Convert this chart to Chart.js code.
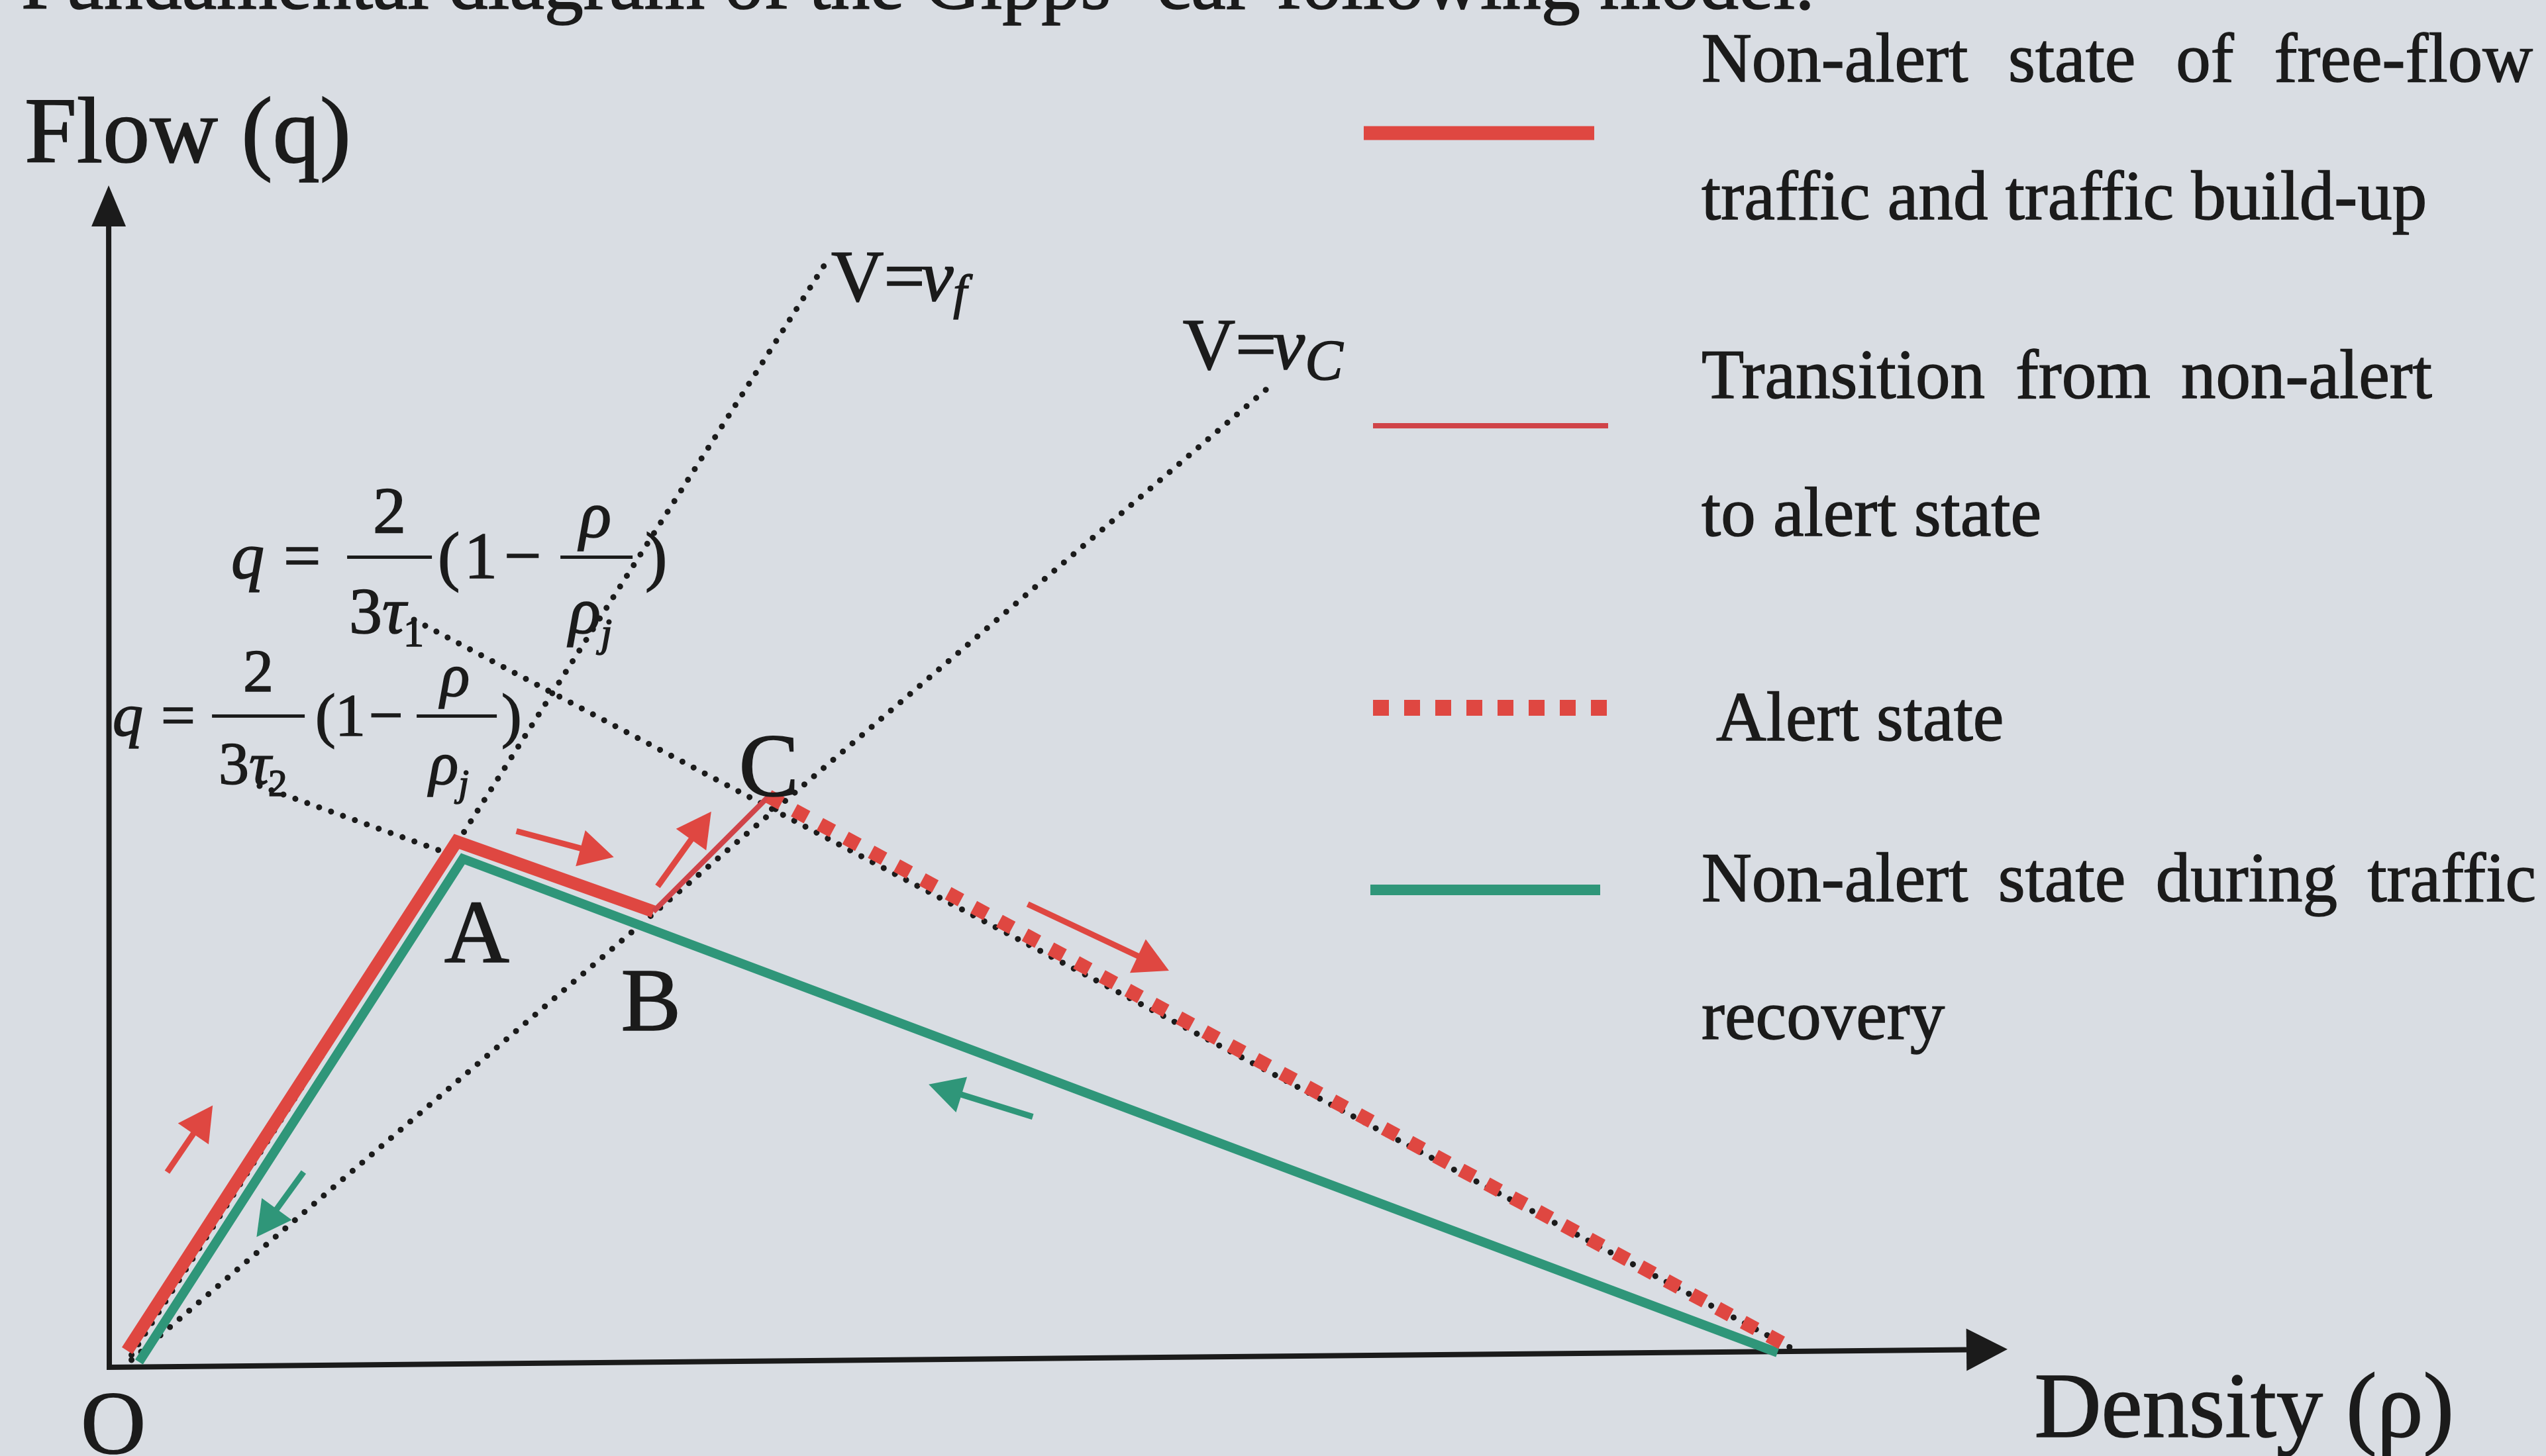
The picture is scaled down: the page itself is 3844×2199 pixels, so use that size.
<!DOCTYPE html>
<html lang="en">
<head>
<meta charset="utf-8">
<title>Fundamental diagram of the Gipps' car-following model</title>
<script src="https://cdn.jsdelivr.net/npm/chart.js@4.4.1/dist/chart.umd.min.js"></script>
<style>
  html, body { margin: 0; padding: 0; background: #d9dde3; overflow: hidden; }
  #box { width: 3844px; height: 2199px; }
</style>
</head>
<body>
<div id="box"><canvas id="fd"></canvas></div>
<script>
// Density (rho) / flow (q) points, jam density scaled to 100
const buildUpRho = [0.04, 19.8, 31.6];
const buildUpQ = [0.56, 31.1, 26.9];
const transitionRho = [31.6, 38.5];
const transitionQ = [26.9, 33.8];
const alertRho = [38.5, 99.9];
const alertQ = [33.8, 0.68];
const recoveryRho = [0.75, 20.17, 99.0];
const recoveryQ = [-0.12, 30.06, 0.44];

// dotted reference lines
const freeFlowRho = [0.3, 42.06];
const freeFlowQ = [0.3, 66.0];
const criticalRho = [0.3, 68.35];
const criticalQ = [0.0, 58.22];
const tau1Rho = [17.24, 99.9];
const tau1Q = [44.4, 0.68];
const tau2Rho = [7.98, 20.17];
const tau2Q = [34.43, 30.06];

// direction markers: [tailRho, tailQ, tipRho, tipQ]
const redArrows = [
  [2.44, 11.27, 5.17, 15.27],
  [23.38, 31.72, 29.22, 30.16],
  [31.85, 28.41, 35.06, 32.89],
  [54.04, 27.34, 62.51, 23.35]
];
const greenArrows = [
  [10.62, 11.27, 7.80, 7.38],
  [54.34, 14.59, 48.10, 16.53]
];

const legendLines = [
  ["Non-alert state of free-flow", "traffic and traffic build-up"],
  ["Transition from non-alert", "to alert state"],
  ["Alert state"],
  ["Non-alert state during traffic", "recovery"]
];

const RED = "#df4741";
const RED_THIN = "#d04449";
const GREEN = "#2f9679";
const INK = "#1b1b1b";
const BG = "#d9dde3";
const SERIF = '"Liberation Serif", "Times New Roman", serif';

function pts(rho, q) {
  return rho.map((r, i) => ({ x: r, y: q[i] }));
}

function line(rho, q, style) {
  return Object.assign({
    data: pts(rho, q),
    showLine: true,
    pointRadius: 0,
    pointHoverRadius: 0,
    tension: 0,
    fill: false,
    borderJoinStyle: "miter"
  }, style);
}

const dotted = {
  borderColor: INK,
  borderWidth: 9,
  borderDash: [0.1, 19],
  borderCapStyle: "round",
  order: 6
};

function font(size, italic) {
  return (italic ? "italic " : "") + size + "px " + SERIF;
}

// filled text with a thin outline so strokes read a bit heavier
function text(ctx, s, x, y, size, italic, align) {
  ctx.font = font(size, italic);
  ctx.textAlign = align || "left";
  ctx.fillText(s, x, y);
  ctx.strokeText(s, x, y);
  return ctx.measureText(s).width;
}

function plain(ctx, s, x, y) {
  ctx.fillText(s, x, y);
  ctx.strokeText(s, x, y);
}

// spread words so the line runs from left to right
function justify(ctx, s, left, right, y) {
  const words = s.split(" ");
  const widths = words.map((w) => ctx.measureText(w).width);
  const total = widths.reduce((a, b) => a + b, 0);
  const gap = (right - left - total) / (words.length - 1);
  let x = left;
  words.forEach((w, i) => {
    plain(ctx, w, x, y);
    x += widths[i] + gap;
  });
}

function arrowHead(ctx, x0, y0, x1, y1, len, half, color) {
  const d = Math.hypot(x1 - x0, y1 - y0);
  const ux = (x1 - x0) / d, uy = (y1 - y0) / d;
  const bx = x1 - ux * len, by = y1 - uy * len;
  ctx.fillStyle = color;
  ctx.beginPath();
  ctx.moveTo(x1, y1);
  ctx.lineTo(bx - uy * half, by + ux * half);
  ctx.lineTo(bx + uy * half, by - ux * half);
  ctx.closePath();
  ctx.fill();
  return [bx, by];
}

function arrow(ctx, x0, y0, x1, y1, color, width, len, half) {
  const d = Math.hypot(x1 - x0, y1 - y0);
  const ux = (x1 - x0) / d, uy = (y1 - y0) / d;
  ctx.strokeStyle = color;
  ctx.lineWidth = width;
  ctx.lineCap = "butt";
  ctx.beginPath();
  ctx.moveTo(x0, y0);
  ctx.lineTo(x1 - ux * len * 0.8, y1 - uy * len * 0.8);
  ctx.stroke();
  arrowHead(ctx, x0, y0, x1, y1, len, half, color);
}

// q = 2/(3 tau)(1 - rho/rho_j), laid out around the left baseline of "q"
function formula(ctx, ax, ay, s, g, sub) {
  ctx.fillStyle = INK;
  text(ctx, "q", ax, ay, s, true);
  text(ctx, "=", ax + g.eq, ay, s);
  ctx.fillRect(ax + g.bar[0], ay + g.barY, g.bar[1] - g.bar[0], 5);
  text(ctx, "2", ax + g.two, ay + g.top, s, false, "center");
  let w = text(ctx, "3", ax + g.den, ay + g.bot, s);
  w += text(ctx, "\u03c4", ax + g.den + w, ay + g.bot, s, true);
  text(ctx, sub, ax + g.den + w - 4, ay + g.bot + s * 0.2, s * 0.62);
  text(ctx, "(", ax + g.open, ay, s);
  text(ctx, "1", ax + g.one, ay, s);
  text(ctx, "\u2212", ax + g.minus, ay, s);
  ctx.fillRect(ax + g.bar2[0], ay + g.barY, g.bar2[1] - g.bar2[0], 5);
  text(ctx, "\u03c1", ax + g.rhoTop, ay + g.topRho, s, true, "center");
  const rw = text(ctx, "\u03c1", ax + g.rhoBot, ay + g.bot, s, true);
  text(ctx, "j", ax + g.rhoBot + rw, ay + g.bot + s * 0.2, s * 0.62, true);
  text(ctx, ")", ax + g.close, ay, s);
}

const overlay = {
  id: "overlay",
  beforeDraw(chart) {
    const ctx = chart.ctx;
    ctx.save();
    ctx.fillStyle = BG;
    ctx.fillRect(0, 0, chart.width, chart.height);
    ctx.restore();
  },
  beforeDatasetsDraw(chart) {
    const ctx = chart.ctx;
    const sx = chart.scales.x, sy = chart.scales.y;
    const P = (r, q) => [sx.getPixelForValue(r), sy.getPixelForValue(q)];
    const corner = P(-1.03, -0.44);
    const yTip = P(-1.07, 70.45);
    const xTip = P(112.79, 0.64);
    ctx.save();
    ctx.strokeStyle = INK;
    ctx.lineWidth = 8;
    const yBase = arrowHead(ctx, corner[0], corner[1], yTip[0], yTip[1], 62, 26, INK);
    const xBase = arrowHead(ctx, corner[0], corner[1], xTip[0], xTip[1], 62, 32, INK);
    ctx.beginPath();
    ctx.moveTo(yBase[0], yBase[1]);
    ctx.lineTo(corner[0], corner[1]);
    ctx.lineTo(xBase[0], xBase[1]);
    ctx.stroke();
    ctx.restore();
  },
  afterDatasetsDraw(chart) {
    const ctx = chart.ctx;
    const sx = chart.scales.x, sy = chart.scales.y;
    const P = (r, q) => [sx.getPixelForValue(r), sy.getPixelForValue(q)];
    ctx.save();
    ctx.textBaseline = "alphabetic";

    // direction markers along the branches
    redArrows.forEach((a) => {
      const t = P(a[0], a[1]), h = P(a[2], a[3]);
      arrow(ctx, t[0], t[1], h[0], h[1], RED, 9, 52, 28);
    });
    greenArrows.forEach((a) => {
      const t = P(a[0], a[1]), h = P(a[2], a[3]);
      arrow(ctx, t[0], t[1], h[0], h[1], GREEN, 9, 52, 28);
    });

    ctx.fillStyle = INK;
    ctx.strokeStyle = INK;
    ctx.lineWidth = 1.6;
    // title line, mostly above the top edge
    text(ctx, "Fundamental diagram of the Gipps\u2019 car-following model.", 32, 13, 118);

    // axis names and origin
    let p = P(-6.12, 71.84);
    text(ctx, "Flow (q)", p[0], p[1], 142);
    p = P(114.4, -4.61);
    text(ctx, "Density (\u03c1)", p[0], p[1], 140);
    p = P(-0.79, -5.6);
    text(ctx, "O", p[0], p[1], 136, false, "center");

    // state points
    p = P(21.0, 23.87);
    text(ctx, "A", p[0], p[1], 136, false, "center");
    p = P(31.45, 19.78);
    text(ctx, "B", p[0], p[1], 136, false, "center");
    p = P(38.52, 33.84);
    text(ctx, "C", p[0], p[1], 136, false, "center");

    // speed lines
    p = P(42.26, 63.54);
    let w = text(ctx, "V=", p[0], p[1], 110) - 6;
    w += text(ctx, "v", p[0] + w, p[1], 110, true);
    text(ctx, "f", p[0] + w, p[1] + 12, 74, true);
    p = P(63.34, 59.45);
    w = text(ctx, "V=", p[0], p[1], 110) - 6;
    w += text(ctx, "v", p[0] + w, p[1], 110, true);
    text(ctx, "C", p[0] + w, p[1] + 16, 86, true);

    // branch equations
    p = P(6.28, 46.9);
    formula(ctx, p[0], p[1], 100, {
      eq: 79, bar: [175, 303], barY: -34, two: 239, top: -69, den: 178, bot: 83,
      open: 312, one: 352, minus: 412, bar2: [497, 606], rhoTop: 550, topRho: -62,
      rhoBot: 510, close: 625
    }, "1");
    p = P(-0.83, 37.45);
    formula(ctx, p[0], p[1], 92, {
      eq: 73, bar: [150, 290], barY: -32, two: 220, top: -67, den: 160, bot: 73,
      open: 306, one: 336, minus: 387, bar2: [459, 580], rhoTop: 517, topRho: -60,
      rhoBot: 478, close: 587
    }, "2");

    // legend
    ctx.lineCap = "butt";
    ctx.strokeStyle = RED;
    ctx.lineWidth = 21;
    ctx.beginPath(); ctx.moveTo(2059, 201); ctx.lineTo(2407, 201); ctx.stroke();
    ctx.strokeStyle = RED_THIN;
    ctx.lineWidth = 8;
    ctx.beginPath(); ctx.moveTo(2073, 643); ctx.lineTo(2428, 643); ctx.stroke();
    ctx.strokeStyle = RED;
    ctx.lineWidth = 24;
    ctx.setLineDash([24, 23]);
    ctx.beginPath(); ctx.moveTo(2073, 1069); ctx.lineTo(2427, 1069); ctx.stroke();
    ctx.setLineDash([]);
    ctx.strokeStyle = GREEN;
    ctx.lineWidth = 16;
    ctx.beginPath(); ctx.moveTo(2069, 1344); ctx.lineTo(2416, 1344); ctx.stroke();

    ctx.fillStyle = INK;
    ctx.strokeStyle = INK;
    ctx.lineWidth = 1.4;
    ctx.font = font(105);
    ctx.textAlign = "left";
    justify(ctx, legendLines[0][0], 2569, 3824, 123);
    plain(ctx, legendLines[0][1], 2569, 331);
    justify(ctx, legendLines[1][0], 2569, 3672, 601);
    plain(ctx, legendLines[1][1], 2569, 809);
    plain(ctx, legendLines[2][0], 2591, 1118);
    justify(ctx, legendLines[3][0], 2569, 3829, 1361);
    plain(ctx, legendLines[3][1], 2569, 1569);

    ctx.restore();
  }
};

new Chart(document.getElementById("fd"), {
  type: "scatter",
  data: {
    datasets: [
      line(tau1Rho, tau1Q, dotted),
      line(tau2Rho, tau2Q, dotted),
      line(freeFlowRho, freeFlowQ, dotted),
      line(criticalRho, criticalQ, dotted),
      line(recoveryRho, recoveryQ, { borderColor: GREEN, borderWidth: 14, order: 4 }),
      line(buildUpRho, buildUpQ, { borderColor: RED, borderWidth: 19, order: 3 }),
      line(transitionRho, transitionQ, { borderColor: RED_THIN, borderWidth: 8, order: 2 }),
      line(alertRho, alertQ, { borderColor: RED, borderWidth: 21, borderDash: [22, 22], order: 1 })
    ]
  },
  options: {
    responsive: true,
    maintainAspectRatio: false,
    devicePixelRatio: 1,
    animation: false,
    events: [],
    layout: { padding: 0 },
    plugins: {
      legend: { display: false },
      tooltip: { enabled: false },
      title: { display: false }
    },
    scales: {
      x: { type: "linear", min: -7.585, max: 145.08, display: false },
      y: { type: "linear", min: -5.76, max: 81.57, display: false }
    }
  },
  plugins: [overlay]
});
</script>
</body>
</html>
